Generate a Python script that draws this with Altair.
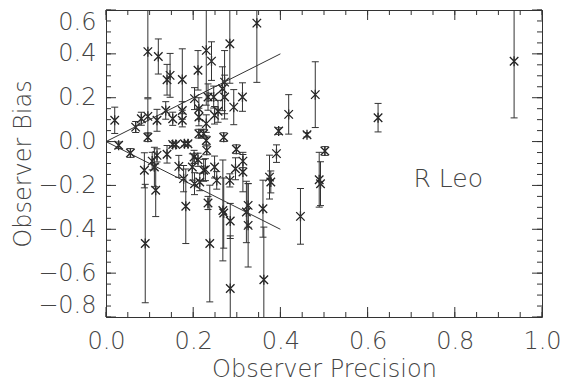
import altair as alt
import pandas as pd

# ---- data ----
prec = [0.020, 0.068, 0.081, 0.096, 0.096, 0.096, 0.117, 0.120, 0.137, 0.140,
        0.147, 0.153, 0.175, 0.175, 0.175, 0.203, 0.211, 0.213, 0.213, 0.213,
        0.224, 0.230, 0.230, 0.230, 0.234, 0.242, 0.247, 0.257, 0.249, 0.270,
        0.272, 0.267, 0.272, 0.284, 0.293, 0.313, 0.346, 0.396, 0.419, 0.461,
        0.480, 0.624, 0.936,
        0.029, 0.056, 0.088, 0.090, 0.106, 0.111, 0.117, 0.114, 0.140, 0.153,
        0.160, 0.180, 0.188, 0.167, 0.178, 0.183, 0.198, 0.202, 0.203, 0.211,
        0.215, 0.224, 0.228, 0.231, 0.234, 0.238, 0.249, 0.254, 0.268, 0.270,
        0.284, 0.285, 0.285, 0.297, 0.299, 0.314, 0.314, 0.322, 0.326, 0.326,
        0.360, 0.362, 0.375, 0.378, 0.391, 0.446, 0.489, 0.492, 0.502]
bias = [0.097, 0.066, 0.104, 0.410, 0.115, 0.020, 0.097, 0.388, 0.142, 0.282,
        0.302, 0.104, 0.283, 0.142, 0.097, 0.196, 0.325, 0.150, 0.112, 0.036,
        0.036, 0.416, 0.082, 0.005, 0.203, 0.367, 0.203, 0.138, 0.120, 0.020,
        0.271, 0.241, 0.203, 0.446, 0.157, 0.203, 0.540, 0.048, 0.124, 0.031,
        0.214, 0.109, 0.366,
        -0.017, -0.052, -0.131, -0.465, -0.089, -0.116, -0.063, -0.222, -0.058, -0.013,
        -0.013, -0.010, -0.010, -0.113, -0.169, -0.295, -0.116, -0.070, -0.192, -0.083,
        -0.184, -0.131, -0.128, -0.040, -0.280, -0.465, -0.116, -0.177, -0.314, -0.326,
        -0.177, -0.362, -0.670, -0.124, -0.035, -0.089, -0.139, -0.321, -0.291, -0.382,
        -0.306, -0.630, -0.162, -0.184, -0.055, -0.341, -0.174, -0.192, -0.043]
err = [0.06, 0.025, 0.03, 0.21, 0.08, 0.02, 0.05, 0.08, 0.04, 0.07,
       0.10, 0.03, 0.14, 0.04, 0.03, 0.05, 0.09, 0.05, 0.04, 0.02,
       0.02, 0.25, 0.04, 0.02, 0.06, 0.088, 0.05, 0.05, 0.04, 0.02,
       0.144, 0.10, 0.10, 0.18, 0.08, 0.065, 0.27, 0.015, 0.09, 0.01,
       0.15, 0.065, 0.258,
       0.015, 0.02, 0.08, 0.27, 0.04, 0.09, 0.03, 0.12, 0.04, 0.01,
       0.01, 0.01, 0.01, 0.05, 0.06, 0.17, 0.06, 0.03, 0.05, 0.03,
       0.04, 0.05, 0.05, 0.02, 0.03, 0.266, 0.05, 0.04, 0.23, 0.16,
       0.03, 0.08, 0.24, 0.05, 0.02, 0.03, 0.09, 0.14, 0.10, 0.19,
       0.13, 0.24, 0.10, 0.05, 0.04, 0.127, 0.125, 0.10, 0.02]

x_major = [0.0, 0.2, 0.4, 0.6, 0.8, 1.0]
y_major = [-0.8, -0.6, -0.4, -0.2, 0.0, 0.2, 0.4, 0.6]
x_minor = [round(0.05 * i, 2) for i in range(21)]
y_minor = [round(-0.8 + 0.05 * i, 2) for i in range(29)]

line_x = [0.0, 0.4, 0.0, 0.4]
line_y = [0.0, 0.4, 0.0, -0.4]
line_g = ["upper", "upper", "lower", "lower"]

label_x = [0.785]
label_y = [-0.205]
label_t = ["R Leo"]

# ---- styling ----
W, H = 436, 307
FONT = "DejaVu Sans"
INK = "#333333"
TXT = "#444444"
STAR = "M0,-1L0,1M-0.85,-0.85L0.85,0.85M-0.85,0.85L0.85,-0.85"

df = pd.DataFrame({"prec": prec, "bias": bias, "err": err})
xs = alt.Scale(domain=[0, 1], nice=False, zero=False)
ys = alt.Scale(domain=[-0.8, 0.6], nice=False, zero=False)

AX = alt.Axis(values=x_major, format=".1f", ticks=False, domain=False, grid=False,
              labelPadding=12, labelFlush=False, title="Observer Precision",
              titlePadding=4)
AY = alt.Axis(values=y_major, format=".1f", ticks=False, domain=False, grid=False,
              labelPadding=10, labelFlush=True, title="Observer Bias", titlePadding=2)

X = lambda f: alt.X(f, type="quantitative", scale=xs, axis=AX)
Y = lambda f: alt.Y(f, type="quantitative", scale=ys, axis=AY)

base = alt.Chart(df).transform_calculate(
    lo="datum.bias - datum.err", hi="datum.bias + datum.err")

bars = base.mark_rule(color=INK, strokeWidth=1, clip=True).encode(
    x=X("prec"), y=Y("lo"), y2="hi:Q")
cap_lo = base.mark_tick(orient="horizontal", size=7, thickness=1, color=INK,
                        clip=True, opacity=1).encode(x=X("prec"), y=Y("lo"))
cap_hi = base.mark_tick(orient="horizontal", size=7, thickness=1, color=INK,
                        clip=True, opacity=1).encode(x=X("prec"), y=Y("hi"))
pts = alt.Chart(df).mark_point(shape=STAR, size=100, filled=False, color="#222222",
                               strokeWidth=1.3, opacity=1, clip=True).encode(
    x=X("prec"), y=Y("bias"))

lines = alt.Chart(pd.DataFrame({"x": line_x, "y": line_y, "g": line_g})).mark_line(
    color=INK, strokeWidth=1).encode(x=X("x"), y=Y("y"), detail="g:N")

txt = alt.Chart(pd.DataFrame({"x": label_x, "y": label_y, "t": label_t})).mark_text(
    font=FONT, fontSize=25, fontWeight=200, color=TXT, align="center",
    baseline="alphabetic").encode(x=X("x"), y=Y("y"), text="t:N")


def xticks(vals, length):
    d = alt.Chart(pd.DataFrame({"v": vals})).mark_rule(color=INK, strokeWidth=1)
    bot = d.encode(x=X("v"), y=alt.value(H), y2=alt.value(H - length))
    top = d.encode(x=X("v"), y=alt.value(0), y2=alt.value(length))
    return [bot, top]


def yticks(vals, length):
    d = alt.Chart(pd.DataFrame({"v": vals})).mark_rule(color=INK, strokeWidth=1)
    left = d.encode(y=Y("v"), x=alt.value(0), x2=alt.value(length))
    right = d.encode(y=Y("v"), x=alt.value(W), x2=alt.value(W - length))
    return [left, right]


tick_layers = xticks(x_minor, 5) + xticks(x_major, 10) + yticks(y_minor, 5) + yticks(y_major, 10)

chart = alt.layer(pts, bars, cap_lo, cap_hi, lines, txt, *tick_layers).properties(
    width=W, height=H,
    autosize=alt.AutoSizeParams(type="none"),
    padding={"left": 106, "top": 10, "right": 24, "bottom": 73},
    background="white",
).configure_view(stroke=INK, strokeWidth=1).configure_axis(
    labelFont=FONT, labelFontSize=24, labelFontWeight=200, labelColor=TXT,
    titleFont=FONT, titleFontSize=24, titleFontWeight=200, titleColor=TXT,
)

chart.save("out.html", embed_options={"renderer": "svg", "actions": False})
